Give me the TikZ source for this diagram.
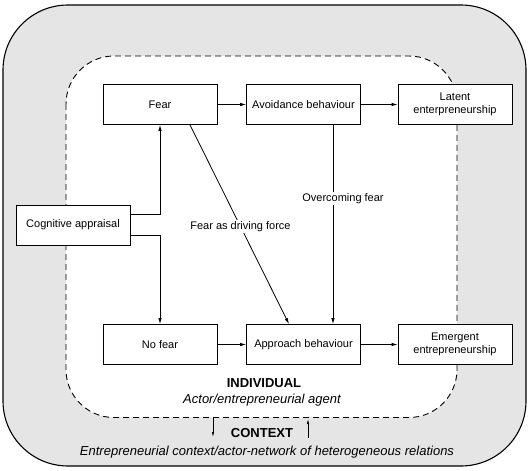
\documentclass[tikz,border=0pt]{standalone}
\usepackage{fontspec}
\setmainfont{Liberation Sans}
\usetikzlibrary{arrows.meta}
\begin{document}
\begin{tikzpicture}[x=1pt, y=-1pt,
  box/.style={draw, fill=white, line width=0.8pt, minimum width=114pt, minimum height=40pt, align=center, font=\fontsize{11}{13}\selectfont},
  arr/.style={-{Latex[length=6pt,width=3.5pt]}, line width=0.8pt},
  thin arr/.style={-{Latex[length=6pt,width=2.2pt]}, line width=0.8pt},
  lbl/.style={fill=white, inner sep=1.5pt, font=\fontsize{11}{13}\selectfont}]
\useasboundingbox (0,0) rectangle (531,471);
\draw[fill=black!10, line width=1.1pt, rounded corners=65pt] (3,5) rectangle (526,466);
\draw[fill=white, line width=0.9pt, dash pattern=on 6pt off 4pt, rounded corners=48pt] (66,56) rectangle (457,417.5);
\node[box] (fear) at (160,104.5) {Fear};
\node[box] (avoid) at (303.5,104.5) {Avoidance behaviour};
\node[box] (latent) at (455,104.5) {Latent\\enterpreneurship};
\node[box] (ca) at (73,225) {Cognitive appraisal};
\node[box] (nofear) at (160,344.5) {No fear};
\node[box] (approach) at (303.5,344.5) {Approach behaviour};
\node[box] (emergent) at (455,344.5) {Emergent\\entrepreneurship};
\draw[arr] ([yshift=11pt]ca.east) -| (fear.south);
\draw[arr] ([yshift=-10pt]ca.east) -| (nofear.north);
\draw[arr] (fear) -- (avoid);
\draw[arr] (avoid) -- (latent);
\draw[arr] (nofear) -- (approach);
\draw[arr] (approach) -- (emergent);
\draw[arr] ([xshift=30pt]fear.south) -- node[lbl, pos=0.51] {Fear as driving force} ([xshift=-14.5pt]approach.north);
\draw[arr] ([xshift=29.5pt]avoid.south) -- node[lbl, pos=0.37, xshift=10pt] {Overcoming fear} ([xshift=29.5pt]approach.north);
\node[font=\fontsize{13}{15}\selectfont\bfseries] (indiv) at (264,383) {INDIVIDUAL};
\node[font=\fontsize{13}{15}\selectfont\itshape] (agent) at (262,400) {Actor/entrepreneurial agent};
\node[font=\fontsize{13}{15}\selectfont\bfseries] (context) at (262,433) {CONTEXT};
\node[font=\fontsize{13}{15}\selectfont\itshape] (network) at (267,452) {Entrepreneurial context/actor-network of heterogeneous relations};
% exchange between individual and context
\coordinate (down top) at (213,418);
\coordinate (down end) at (213,438);
\coordinate (up start) at (308,438);
\coordinate (up top) at (308,418);
\draw[thin arr] (down top) -- (down end);
\draw[thin arr] (up start) -- (up top);
\end{tikzpicture}
\end{document}
